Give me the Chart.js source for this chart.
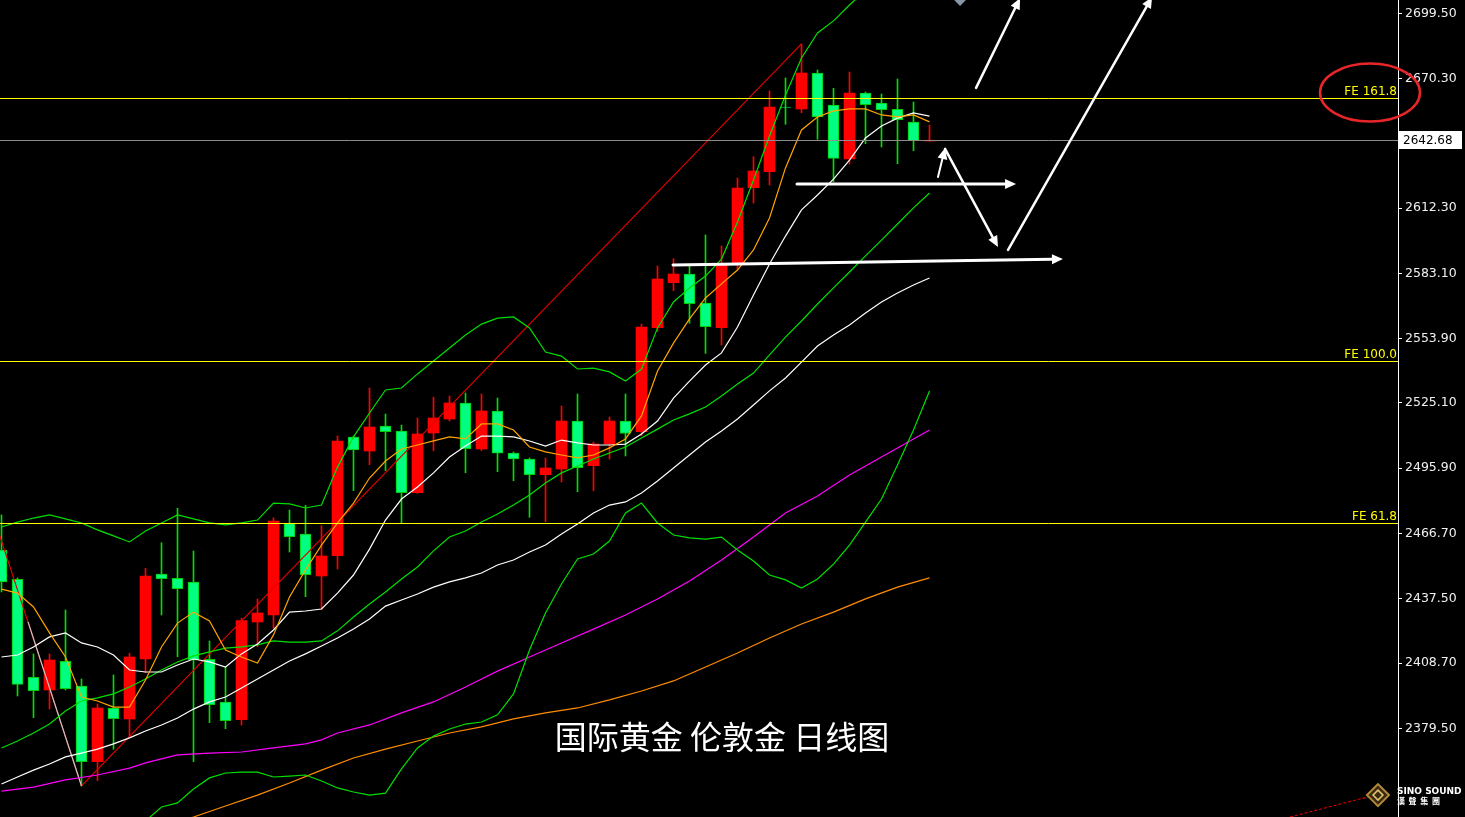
<!DOCTYPE html>
<html>
<head>
<meta charset="utf-8">
<script src="https://cdn.jsdelivr.net/npm/chart.js@4/dist/chart.umd.min.js"></script>
<style>
html, body { margin: 0; padding: 0; background: #000; }
</style>
</head>
<body>
<canvas id="chart" width="1465" height="817"></canvas>
<script>
// daily candles, bar 0 = leftmost visible bar
const opens = [2459.30, 2446.18, 2402.32, 2396.64, 2409.48, 2398.43, 2364.55, 2388.58, 2383.66, 2410.51,
  2448.56, 2446.63, 2444.98, 2410.38, 2391.27, 2383.35, 2427.07, 2430.21, 2471.07, 2466.46,
  2447.66, 2456.75, 2509.87, 2503.60, 2514.79, 2512.56, 2484.94, 2511.66, 2517.93, 2525.09,
  2504.50, 2521.51, 2502.71, 2500.02, 2493.00, 2495.55, 2517.03, 2497.03, 2506.74, 2517.03,
  2512.24, 2558.79, 2578.93, 2582.82, 2569.84, 2558.79, 2587.16, 2621.45, 2628.61, 2657.56,
  2656.67, 2672.78, 2658.46, 2634.29, 2663.83, 2659.35, 2656.53, 2650.85, 2642.35];
const highs = [2474.96, 2446.77, 2412.75, 2412.75, 2432.44, 2401.56, 2390.37, 2403.35, 2413.06, 2451.11,
  2462.56, 2477.96, 2458.85, 2418.57, 2407.07, 2428.86, 2437.37, 2473.75, 2477.20, 2479.30,
  2470.18, 2510.32, 2510.32, 2531.80, 2520.16, 2515.24, 2518.37, 2527.64, 2528.22, 2529.56,
  2529.12, 2527.33, 2503.16, 2500.47, 2500.47, 2523.74, 2529.12, 2507.63, 2518.82, 2529.12,
  2560.44, 2586.40, 2589.67, 2587.16, 2600.28, 2595.35, 2625.79, 2635.32, 2664.72, 2670.54,
  2685.76, 2674.12, 2665.93, 2673.23, 2664.28, 2663.38, 2670.09, 2659.80, 2649.51];
const lows = [2440.50, 2393.96, 2384.24, 2388.14, 2396.64, 2353.68, 2356.05, 2370.10, 2375.47, 2404.38,
  2430.21, 2411.54, 2364.55, 2382.01, 2379.32, 2380.98, 2416.02, 2424.25, 2458.40, 2438.40,
  2432.76, 2450.79, 2485.84, 2497.47, 2494.79, 2471.25, 2484.67, 2503.74, 2517.03, 2493.89,
  2503.74, 2494.34, 2490.31, 2473.93, 2471.96, 2489.73, 2485.39, 2485.84, 2500.02, 2501.37,
  2510.45, 2557.00, 2575.35, 2560.76, 2547.33, 2551.05, 2584.92, 2614.60, 2622.65, 2649.82,
  2655.01, 2643.11, 2624.13, 2632.05, 2641.14, 2639.66, 2632.19, 2638.00, 2642.35];
const closes = [2444.98, 2399.19, 2396.33, 2410.07, 2397.22, 2364.55, 2388.58, 2383.80, 2411.41, 2447.66,
  2446.45, 2441.98, 2410.07, 2390.06, 2382.90, 2427.66, 2431.10, 2472.28, 2465.25, 2448.24,
  2456.61, 2508.08, 2504.05, 2514.35, 2512.24, 2484.94, 2511.21, 2518.37, 2525.09, 2504.63,
  2521.51, 2502.58, 2500.02, 2493.00, 2496.00, 2517.03, 2496.13, 2506.74, 2517.03, 2511.44,
  2559.10, 2580.58, 2582.82, 2569.53, 2559.23, 2586.98, 2621.31, 2628.92, 2657.56, 2657.34,
  2672.78, 2653.09, 2634.60, 2663.83, 2658.59, 2656.35, 2651.88, 2642.48, 2642.68];

// moving averages, one value per bar
const maFast = [2441.8, 2440.0, 2433.8, 2422.2, 2411.4, 2393.5, 2391.7, 2389.0, 2389.0, 2401.1,
  2415.9, 2426.6, 2431.5, 2427.5, 2414.5, 2411.4, 2408.7, 2421.3, 2438.3, 2450.4,
  2461.5, 2471.4, 2480.3, 2491.5, 2499.1, 2504.5, 2506.3, 2508.1, 2509.9, 2509.0,
  2515.7, 2515.7, 2513.0, 2505.4, 2503.2, 2501.8, 2500.5, 2501.8, 2505.0, 2509.0,
  2519.3, 2539.4, 2551.9, 2562.7, 2572.1, 2578.4, 2584.6, 2593.6, 2607.9, 2630.3,
  2647.3, 2653.1, 2655.8, 2656.7, 2656.7, 2654.0, 2653.1, 2654.0, 2650.9];
const maMid = [2411.4, 2412.3, 2415.9, 2420.4, 2422.2, 2417.7, 2415.9, 2412.3, 2405.6, 2404.7,
  2404.7, 2407.8, 2410.5, 2409.2, 2406.9, 2412.8, 2417.2, 2423.5, 2431.5, 2432.0,
  2432.9, 2440.0, 2448.1, 2459.7, 2472.7, 2482.1, 2487.5, 2493.8, 2500.9, 2505.8,
  2510.3, 2510.3, 2509.9, 2508.1, 2505.8, 2508.5, 2507.2, 2506.3, 2506.3, 2506.7,
  2511.2, 2517.0, 2527.3, 2534.9, 2542.1, 2547.5, 2559.1, 2573.4, 2587.3, 2599.8,
  2611.5, 2618.2, 2625.3, 2633.8, 2643.7, 2649.1, 2652.6, 2654.9, 2653.5];
const maSlow = [2354.6, 2357.7, 2360.8, 2363.5, 2366.7, 2368.4, 2370.2, 2372.5, 2375.2, 2378.3,
  2381.0, 2384.1, 2388.1, 2391.3, 2393.5, 2397.5, 2401.6, 2405.6, 2409.6, 2412.8,
  2416.3, 2419.9, 2423.9, 2428.4, 2434.2, 2436.9, 2439.6, 2442.7, 2445.0, 2446.8,
  2449.0, 2452.6, 2454.8, 2458.4, 2461.5, 2466.5, 2470.9, 2475.9, 2479.4, 2480.8,
  2484.8, 2490.2, 2496.0, 2501.8, 2507.6, 2512.6, 2517.9, 2524.2, 2530.5, 2536.3,
  2543.4, 2550.6, 2555.5, 2560.0, 2565.4, 2570.3, 2574.3, 2577.9, 2581.0];

// bollinger bands
const bbUpper = [2469.6, 2471.8, 2473.6, 2475.0, 2473.2, 2471.4, 2468.3, 2465.6, 2462.9, 2467.8,
  2471.4, 2475.0, 2473.2, 2471.4, 2470.5, 2471.4, 2472.7, 2480.3, 2479.9, 2478.1,
  2479.4, 2496.4, 2509.9, 2520.6, 2530.9, 2531.8, 2538.1, 2543.9, 2549.7, 2555.5,
  2560.4, 2563.1, 2563.6, 2558.7, 2547.9, 2546.1, 2540.3, 2540.7, 2539.0, 2534.9,
  2540.3, 2558.7, 2570.3, 2576.6, 2581.9, 2589.5, 2606.1, 2624.9, 2644.6, 2662.9,
  2679.5, 2690.7, 2696.1, 2703.2, 2709.9, 2714.0, 2713.1, 2711.7, 2707.7];
const bbMiddle = [2370.7, 2373.8, 2377.4, 2381.4, 2387.2, 2391.7, 2393.1, 2394.9, 2398.0, 2401.6,
  2405.6, 2409.2, 2411.9, 2413.7, 2415.4, 2415.9, 2416.8, 2418.6, 2418.1, 2418.1,
  2418.6, 2423.1, 2429.3, 2435.1, 2440.5, 2446.3, 2451.7, 2458.9, 2465.1, 2467.8,
  2471.8, 2475.4, 2479.4, 2483.9, 2489.3, 2493.8, 2496.9, 2500.0, 2502.7, 2505.4,
  2509.4, 2513.4, 2517.5, 2520.2, 2523.3, 2528.2, 2533.6, 2538.5, 2546.6, 2554.6,
  2561.8, 2569.4, 2576.6, 2583.7, 2590.9, 2598.0, 2605.2, 2612.4, 2619.1];
const bbLower = [2271.8, 2275.8, 2279.8, 2287.9, 2301.3, 2312.1, 2317.9, 2324.1, 2333.1, 2338.0,
  2344.3, 2346.1, 2352.3, 2357.3, 2359.5, 2359.9, 2359.9, 2357.7, 2358.1, 2358.6,
  2355.9, 2352.8, 2351.0, 2349.6, 2350.5, 2361.3, 2370.7, 2376.0, 2379.2, 2381.4,
  2382.3, 2385.5, 2394.9, 2414.5, 2431.1, 2444.1, 2455.3, 2457.5, 2463.3, 2475.9,
  2480.3, 2471.4, 2466.0, 2464.7, 2464.2, 2465.1, 2459.3, 2454.4, 2448.1, 2445.9,
  2442.3, 2446.3, 2453.0, 2461.5, 2471.8, 2482.1, 2497.3, 2513.0, 2530.5];

// long averages read at fewer bars
const maLongBars = [0, 2, 4, 6, 8, 9, 11, 13, 15, 17, 19, 20, 21, 23, 25, 27, 29, 31, 33, 35,
  37, 39, 41, 43, 45, 47, 49, 51, 53, 55, 57, 58];
const maLong = [2351.4, 2353.2, 2356.4, 2358.6, 2361.7, 2364.0, 2367.6, 2368.4, 2368.9, 2370.7,
  2372.5, 2374.3, 2377.4, 2381.0, 2386.4, 2391.3, 2398.0, 2405.1, 2411.4, 2417.7,
  2423.9, 2430.2, 2437.4, 2445.4, 2454.8, 2465.1, 2475.9, 2483.5, 2492.9, 2500.9,
  2509.0, 2513.0];
const maVeryLongBars = [11, 12, 14, 16, 18, 20, 22, 24, 26, 28, 30, 32, 34, 36, 38, 40, 42, 44,
  46, 48, 50, 52, 54, 56, 58];
const maVeryLong = [2337.6, 2339.8, 2344.7, 2349.6, 2355.0, 2360.8, 2366.2, 2370.2, 2373.8, 2377.4,
  2380.1, 2383.7, 2386.4, 2388.6, 2392.2, 2396.2, 2400.7, 2406.9, 2413.2, 2419.9,
  2426.2, 2431.5, 2437.4, 2442.7, 2446.8];

// zigzag swing points
const zigBars = [-1, 5, 50];
const zigPrices = [2485.3, 2353.7, 2685.8];
const trendBars = [1.66, 5];
const trendPrices = [2427.1, 2353.7];
const cornerBars = [80.53, 85.41];
const cornerPrices = [2339.8, 2348.8];

// fibonacci expansion levels
const feLevels = [2661.6, 2543.9, 2471.4];
const feNames = ["FE 161.8", "FE 100.0", "FE 61.8"];
const lastPrice = 2642.68;

// axis
const yTicks = [2699.5, 2670.3, 2612.3, 2583.1, 2553.9, 2525.1, 2495.9, 2466.7, 2437.5, 2408.7, 2379.5];
const xMin = -0.09375;
const xMax = 87.28125;
const yMin = 2339.8;
const yMax = 2705.45;

// hand drawn arrows: [fromBar, fromPrice, toBar, toPrice, width]
const arrows = [
  [60.91, 2666.1, 63.66, 2706.3, 2.5],
  [62.91, 2593.6, 71.91, 2706.8, 2.5],
  [49.72, 2623.1, 63.41, 2623.1, 3],
  [41.97, 2586.9, 66.34, 2589.5, 3],
  [58.53, 2626.2, 58.97, 2639.2, 2],
  [58.97, 2638.8, 62.28, 2594.9, 2.5],
];
const circleAt = [85.53, 2664.0];
const markerAt = [59.91, 2706.4];
const title = "国际黄金 伦敦金 日线图";
const titleAt = [45.03, 2375.6];
const logoAt = [86.03, 2349.6];

const UP = "#ff0000";
const DOWN = "#00ff80";
const DOWN_EDGE = "#00cc00";

const isUp = closes.map((c, i) => c >= opens[i]);

const pts = (bars, vals) => vals.map((v, i) => ({ x: bars ? bars[i] : i, y: v }));
const line = (data, color, extra) => Object.assign({
  type: "line", data: data, borderColor: color, borderWidth: 1.2,
  pointRadius: 0, tension: 0, order: 0, fill: false,
}, extra || {});

const annotations = {
  id: "annotations",
  beforeDraw(chart) {
    const ctx = chart.ctx;
    ctx.save();
    ctx.fillStyle = "#000";
    ctx.fillRect(0, 0, chart.width, chart.height);
    ctx.restore();
  },
  afterDatasetsDraw(chart) {
    const ctx = chart.ctx;
    const ys = chart.scales.y;
    const area = chart.chartArea;
    const crisp = (p) => Math.round(ys.getPixelForValue(p)) + 0.5;
    ctx.save();
    ctx.lineWidth = 1;
    // fibonacci levels
    ctx.strokeStyle = "#ffff00";
    feLevels.forEach((lv) => {
      ctx.beginPath();
      ctx.moveTo(area.left, crisp(lv));
      ctx.lineTo(area.right, crisp(lv));
      ctx.stroke();
    });
    ctx.font = "12px 'DejaVu Sans'";
    ctx.fillStyle = "#ffff00";
    ctx.textAlign = "right";
    ctx.textBaseline = "bottom";
    feLevels.forEach((lv, i) => ctx.fillText(feNames[i], area.right - 1, crisp(lv) - 1));
    // last price line
    ctx.strokeStyle = "#8c8c8c";
    ctx.beginPath();
    ctx.moveTo(area.left, crisp(lastPrice));
    ctx.lineTo(area.right, crisp(lastPrice));
    ctx.stroke();
    ctx.restore();
  },
  afterDraw(chart) {
    const ctx = chart.ctx;
    const xs = chart.scales.x, ys = chart.scales.y;
    const px = (b) => xs.getPixelForValue(b);
    const py = (p) => ys.getPixelForValue(p);
    const area = chart.chartArea;

    ctx.save();
    ctx.beginPath();
    ctx.rect(area.left, area.top, area.right - area.left, area.bottom - area.top);
    ctx.clip();

    // arrows
    ctx.strokeStyle = "#ffffff";
    ctx.fillStyle = "#ffffff";
    ctx.lineCap = "round";
    arrows.forEach((a) => {
      const x1 = px(a[0]), y1 = py(a[1]), x2 = px(a[2]), y2 = py(a[3]);
      const ang = Math.atan2(y2 - y1, x2 - x1);
      const len = 11, half = 5;
      const bx = x2 - len * Math.cos(ang), by = y2 - len * Math.sin(ang);
      ctx.lineWidth = a[4];
      ctx.beginPath();
      ctx.moveTo(x1, y1);
      ctx.lineTo(bx, by);
      ctx.stroke();
      ctx.beginPath();
      ctx.moveTo(x2, y2);
      ctx.lineTo(bx + half * Math.sin(ang), by - half * Math.cos(ang));
      ctx.lineTo(bx - half * Math.sin(ang), by + half * Math.cos(ang));
      ctx.closePath();
      ctx.fill();
    });

    // grey marker at the top
    const mx = px(markerAt[0]), my = py(markerAt[1]);
    ctx.fillStyle = "#8796a6";
    ctx.beginPath();
    ctx.moveTo(mx, my - 8);
    ctx.lineTo(mx + 8, my);
    ctx.lineTo(mx, my + 8);
    ctx.lineTo(mx - 8, my);
    ctx.closePath();
    ctx.fill();

    // title
    ctx.font = "32px 'Noto Sans CJK SC'";
    ctx.fillStyle = "#ffffff";
    ctx.textAlign = "center";
    ctx.textBaseline = "middle";
    ctx.fillText(title, px(titleAt[0]), py(titleAt[1]));
    ctx.restore();

    // price box on the axis
    ctx.save();
    const yp = Math.round(py(lastPrice));
    ctx.fillStyle = "#ffffff";
    ctx.fillRect(area.right + 1, yp - 9, 63, 18);
    ctx.fillStyle = "#000000";
    ctx.font = "12px 'DejaVu Sans'";
    ctx.textAlign = "left";
    ctx.textBaseline = "middle";
    ctx.fillText(lastPrice.toFixed(2), area.right + 5, yp + 1);

    // red ring round the top level
    ctx.strokeStyle = "#e8262a";
    ctx.lineWidth = 2.5;
    ctx.beginPath();
    ctx.ellipse(px(circleAt[0]), py(circleAt[1]), 50, 29, 0, 0, Math.PI * 2);
    ctx.stroke();

    // logo
    const lx = px(logoAt[0]), ly = py(logoAt[1]);
    ctx.strokeStyle = "#b58a3a";
    ctx.fillStyle = "#3a2a10";
    ctx.lineWidth = 2;
    ctx.beginPath();
    ctx.moveTo(lx, ly - 11);
    ctx.lineTo(lx + 11, ly);
    ctx.lineTo(lx, ly + 11);
    ctx.lineTo(lx - 11, ly);
    ctx.closePath();
    ctx.fill();
    ctx.stroke();
    ctx.strokeStyle = "#e0c070";
    ctx.lineWidth = 1.5;
    ctx.beginPath();
    ctx.moveTo(lx, ly - 5);
    ctx.lineTo(lx + 5, ly);
    ctx.lineTo(lx, ly + 5);
    ctx.lineTo(lx - 5, ly);
    ctx.closePath();
    ctx.stroke();
    ctx.fillStyle = "#ffffff";
    ctx.font = "bold 9px 'DejaVu Sans'";
    ctx.textAlign = "left";
    ctx.textBaseline = "alphabetic";
    ctx.fillText("SINO SOUND", lx + 19, ly - 1);
    ctx.font = "bold 8px 'Noto Sans CJK TC'";
    ctx.fillText("漢  聲  集  團", lx + 19, ly + 9);
    ctx.restore();
  },
};

const chart = new Chart(document.getElementById("chart"), {
  type: "bar",
  data: {
    datasets: [
      line(pts(null, maFast), "#ffa500"),
      line(pts(null, maMid), "#ffffff"),
      line(pts(null, maSlow), "#ffffff"),
      line(pts(null, bbUpper), "#00e000"),
      line(pts(null, bbMiddle), "#00e000"),
      line(pts(null, bbLower), "#00e000"),
      line(pts(maLongBars, maLong), "#ff00ff"),
      line(pts(maVeryLongBars, maVeryLong), "#ff8c00"),
      line(pts(trendBars, trendPrices), "#c8c8c8"),
      line(pts(zigBars, zigPrices), "#e00000"),
      line(pts(cornerBars, cornerPrices), "#e00000", { borderDash: [3, 2] }),
      {
        type: "bar",
        data: opens.map((o, i) => ({ x: i, y: [o, closes[i]] })),
        backgroundColor: isUp.map((u) => (u ? UP : DOWN)),
        borderColor: isUp.map((u) => (u ? UP : DOWN_EDGE)),
        borderWidth: isUp.map((u) => (u ? 0 : 1)),
        borderSkipped: false,
        barThickness: 11,
        grouped: false,
        order: 1,
      },
      {
        type: "bar",
        data: lows.map((l, i) => ({ x: i, y: [l, highs[i]] })),
        backgroundColor: isUp.map((u) => (u ? UP : "#00dd00")),
        barThickness: 1,
        grouped: false,
        order: 2,
      },
    ],
  },
  options: {
    responsive: false,
    animation: false,
    layout: { padding: 0 },
    plugins: { legend: { display: false }, tooltip: { enabled: false } },
    scales: {
      x: { type: "linear", min: xMin, max: xMax, display: false, offset: false },
      y: {
        type: "linear",
        position: "right",
        min: yMin,
        max: yMax,
        afterBuildTicks: (s) => { s.ticks = yTicks.map((v) => ({ value: v })); },
        afterFit: (s) => { s.width = 67; s.paddingTop = 0; s.paddingBottom = 0; },
        ticks: {
          color: "#f0f0f0",
          font: { family: "DejaVu Sans", size: 12.5 },
          padding: 3,
          autoSkip: false,
          callback: (v) => Number(v).toFixed(2),
        },
        grid: { drawOnChartArea: false, color: "#ffffff", tickLength: 4 },
        border: { display: true, color: "#ffffff", width: 1 },
      },
    },
  },
  plugins: [annotations],
});
</script>
</body>
</html>
